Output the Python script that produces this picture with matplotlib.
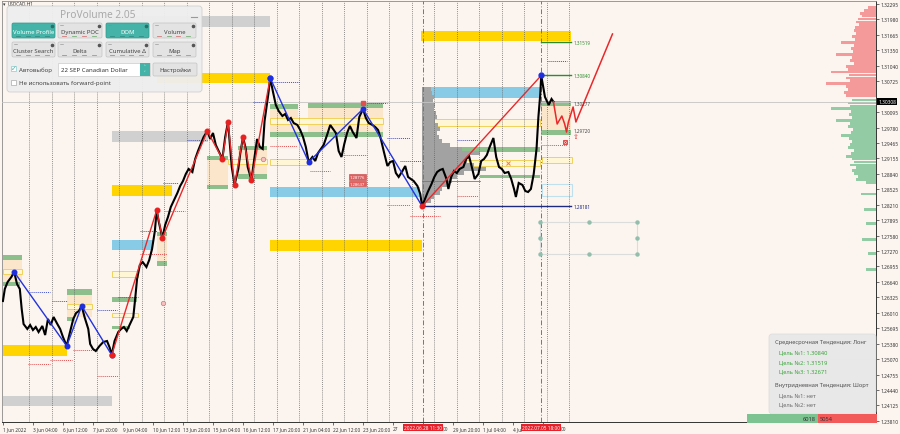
import matplotlib
matplotlib.use('Agg')
import matplotlib.pyplot as plt
from matplotlib.patches import Rectangle, FancyBboxPatch

plt.rcParams['font.family'] = ['Noto Sans', 'DejaVu Sans']

# ------------------------------------------------------------------ data
# H1 closes (bar index from chart start, price)
close_bar = [0, 2, 5, 9, 12, 15, 18, 20, 22, 26, 29, 32, 35, 38, 42, 45, 48, 51, 54, 58,
             61, 64, 68, 71, 75, 78, 81, 84, 87, 91, 93, 96, 99, 103, 107, 111, 114, 116, 119, 123,
             126, 129, 132, 135, 139, 141, 143, 146, 149, 153, 156, 159, 162, 164, 166, 170, 173, 176, 179, 182,
             186, 189, 192, 195, 198, 202, 205, 208, 211, 214, 218, 221, 224, 227, 230, 234, 237, 240, 242, 244,
             247, 251, 253, 256, 259, 261, 265, 268, 271, 274, 277, 279, 283, 285, 288, 291, 294, 298, 301, 304,
             307, 310, 314, 317, 320, 323, 326, 330, 333, 336, 339, 342, 346, 349, 352, 355, 358, 361, 364, 367,
             370, 373, 377, 380, 384, 387, 390, 394, 397, 400, 403, 406, 410, 413, 416, 419, 422, 426, 429, 432,
             435, 438, 442, 445, 447, 450, 453, 457, 460, 463, 466, 469, 473, 475, 478, 481, 484, 487, 491, 494,
             497, 500, 503, 507, 510, 513, 516, 519, 523, 526, 529, 532, 535, 539, 542, 545, 547, 550, 554, 557,
             560, 563, 566, 569, 571, 573, 574, 576, 578, 580, 582, 585, 587]
close_price = [1.26251, 1.26496, 1.26638, 1.26740, 1.26841, 1.26597, 1.26496, 1.26089, 1.25783, 1.25682,
               1.25763, 1.25661, 1.25722, 1.25620, 1.25743, 1.25559, 1.25885, 1.25763, 1.25926, 1.25783,
               1.25682, 1.25519, 1.25336, 1.25580, 1.25885, 1.26007, 1.26048, 1.26150, 1.25926, 1.25682,
               1.25376, 1.25275, 1.25234, 1.25336, 1.25417, 1.25437, 1.25295, 1.25152, 1.25437, 1.25620,
               1.25682, 1.25722, 1.25641, 1.25763, 1.25926, 1.26292, 1.26699, 1.26984, 1.27045, 1.26943,
               1.27086, 1.27310, 1.27676, 1.28103, 1.27879, 1.27533, 1.27798, 1.27961, 1.28164, 1.28286,
               1.28449, 1.28592, 1.28693, 1.28836, 1.28938, 1.28876, 1.29141, 1.29304, 1.29446, 1.29589,
               1.29711, 1.29548, 1.29670, 1.29426, 1.29304, 1.29141, 1.29589, 1.29894, 1.29446, 1.28978,
               1.28612, 1.28938, 1.29243, 1.29589, 1.29345, 1.28978, 1.28714, 1.29141, 1.29548, 1.29385,
               1.29345, 1.29914, 1.30464, 1.30789, 1.30504, 1.30240, 1.30118, 1.30016, 1.30057, 1.29935,
               1.29975, 1.29874, 1.29833, 1.29731, 1.29589, 1.29385, 1.29080, 1.29182, 1.29100, 1.29263,
               1.29345, 1.29426, 1.29650, 1.29833, 1.29752, 1.29670, 1.29304, 1.29182, 1.29446, 1.29670,
               1.29813, 1.29690, 1.29568, 1.29996, 1.30159, 1.29975, 1.29874, 1.29833, 1.29792, 1.29731,
               1.29548, 1.29304, 1.28999, 1.29080, 1.29100, 1.28856, 1.28775, 1.28897, 1.28999, 1.28775,
               1.28734, 1.28693, 1.28592, 1.28429, 1.28181, 1.28327, 1.28469, 1.28632, 1.28775, 1.28876,
               1.28917, 1.28938, 1.28734, 1.28531, 1.28775, 1.28897, 1.28856, 1.28938, 1.28978, 1.29141,
               1.29202, 1.28978, 1.28734, 1.28836, 1.29100, 1.29141, 1.29222, 1.29385, 1.29568, 1.29182,
               1.28978, 1.28938, 1.28856, 1.28876, 1.28734, 1.28531, 1.28368, 1.28653, 1.28612, 1.28490,
               1.28469, 1.28531, 1.28836, 1.29345, 1.29996, 1.30464, 1.30840, 1.30627, 1.30403, 1.30321,
               1.30240, 1.30362, 1.30308]

# zigzag swings
zz_blue_a_bar = [12, 68, 84, 116]
zz_blue_a_price = [1.26841, 1.25336, 1.26150, 1.25152]
zz_red_a_bar = [116, 164, 170, 218, 234, 240, 247, 256, 265, 285]
zz_red_a_price = [1.25152, 1.28103, 1.27533, 1.29711, 1.29141, 1.29894, 1.28612, 1.29589, 1.28714, 1.30789]
zz_blue_b_bar = [285, 326, 384, 447]
zz_blue_b_price = [1.30789, 1.29080, 1.30159, 1.28181]
zz_red_b_bar = [447, 574]
zz_red_b_price = [1.28181, 1.30840]
forecast_bar = [587, 591, 596, 599, 601, 603, 608, 611, 650]
forecast_price = [1.30308, 1.29853, 1.30016, 1.29853, 1.29690, 1.29894, 1.30199, 1.29894, 1.31685]

# target levels
target_price = [1.31519, 1.30840, 1.30277, 1.29720, 1.28181]
target_start = [574, 574, 574, 574, 447]
target_kind = ['line', 'line', 'bar', 'bar', 'navy']

# zones: (bar_from, bar_to, price_low, price_high)
gray_zones = [(116, 285, 1.31827, 1.32051), (116, 219, 1.29487, 1.29711), (0, 116, 1.24115, 1.24318)]
yellow_zones = [(116, 180, 1.28388, 1.28612), (164, 285, 1.30688, 1.30891), (0, 68, 1.25132, 1.25356),
                (285, 447, 1.27269, 1.27493), (446, 606, 1.31542, 1.31746)]
blue_zones = [(116, 160, 1.27289, 1.27493), (285, 445, 1.28368, 1.28571), (447, 573, 1.30382, 1.30606)]
cyan_boxes = [(575, 607, 1.28388, 1.28632)]
green_zones = [(0, 20, 1.27086, 1.27187), (0, 18, 1.26557, 1.26638), (68, 95, 1.26373, 1.26496),
               (68, 75, 1.25844, 1.25926), (116, 143, 1.26231, 1.26333), (116, 135, 1.25682, 1.25743),
               (164, 175, 1.27574, 1.27655), (164, 175, 1.26964, 1.27066), (218, 240, 1.29121, 1.29202),
               (218, 240, 1.28531, 1.28612), (251, 282, 1.29324, 1.29406), (251, 282, 1.28734, 1.28836),
               (285, 315, 1.30159, 1.30260), (325, 405, 1.30179, 1.30281), (285, 405, 1.29589, 1.29690),
               (449, 573, 1.29283, 1.29385), (509, 573, 1.28754, 1.28815), (574, 606, 1.30219, 1.30321),
               (574, 606, 1.29629, 1.29731)]
peach_zones = [(0, 20, 1.26638, 1.27086), (68, 95, 1.25926, 1.26373), (164, 175, 1.27066, 1.27574),
               (218, 240, 1.28612, 1.29121), (251, 282, 1.28836, 1.29324), (285, 315, 1.29690, 1.30159),
               (325, 405, 1.29690, 1.30179), (574, 606, 1.29731, 1.30219)]
yellow_boxes = [(0, 20, 1.26800, 1.26903), (68, 95, 1.26089, 1.26190), (116, 144, 1.26740, 1.26862),
                (116, 144, 1.25926, 1.26007), (240, 282, 1.29039, 1.29141), (285, 405, 1.29853, 1.29975),
                (285, 324, 1.29019, 1.29141), (447, 573, 1.29813, 1.29955), (482, 573, 1.28999, 1.29121),
                (575, 607, 1.29060, 1.29182)]
blue_dotted = [(29, 50, 1.26435), (52, 68, 1.26251), (100, 122, 1.26068), (123, 144, 1.26333),
               (146, 164, 1.27676), (171, 187, 1.28653), (196, 218, 1.29528), (267, 285, 1.30301),
               (288, 317, 1.30708), (388, 410, 1.30281), (410, 434, 1.29568), (423, 446, 1.29100),
               (484, 507, 1.29528), (580, 602, 1.31135)]
red_dotted = [(27, 50, 1.24969), (50, 74, 1.25051), (75, 100, 1.25254), (100, 123, 1.24726),
              (146, 175, 1.27208), (173, 194, 1.28083), (285, 314, 1.29406), (327, 349, 1.28897),
              (363, 388, 1.29222), (410, 434, 1.28205), (434, 466, 1.27981), (484, 507, 1.28388),
              (575, 602, 1.29426)]

# volume profile from the 28 Jun low
vp_start = 447
vp_price = [1.30566, 1.30484, 1.30403, 1.30321, 1.30240, 1.30159, 1.30077, 1.29996, 1.29914, 1.29833,
            1.29752, 1.29670, 1.29589, 1.29508, 1.29426, 1.29345, 1.29263, 1.29182, 1.29100, 1.29019,
            1.28938, 1.28856, 1.28775, 1.28693, 1.28612, 1.28531, 1.28449, 1.28368, 1.28286, 1.28205]
vp_volume = [9, 11, 13, 12, 14, 13, 15, 16, 14, 17, 19, 16, 18, 21, 30, 43, 62, 51, 48, 55,
             68, 45, 37, 32, 27, 21, 19, 13, 9, 4]
vp_poc = 1.28693

# DOM (asks above, bids below current price)
ask_price = [1.3223, 1.3217, 1.3211, 1.3205, 1.3199, 1.3193, 1.3187, 1.3181, 1.3175, 1.3169,
             1.3163, 1.3157, 1.3151, 1.3145, 1.3139, 1.3133, 1.3127, 1.3121, 1.3115, 1.3109,
             1.3103, 1.3097, 1.3091, 1.3085, 1.3079, 1.3073, 1.3067, 1.3061, 1.3055, 1.3049, 1.3043]
ask_volume = [8, 12, 16, 14, 18, 20, 17, 21, 22, 20, 24, 21, 35, 22, 25, 23, 40, 24, 26, 22,
              30, 28, 45, 27, 30, 26, 50, 30, 28, 32, 30]
bid_price = [1.3034, 1.3028, 1.3022, 1.3016, 1.3010, 1.3004, 1.2998, 1.2992, 1.2986, 1.2980,
             1.2974, 1.2968, 1.2962, 1.2956, 1.2950, 1.2944, 1.2938, 1.2932, 1.2926, 1.2920,
             1.2914, 1.2908, 1.2902, 1.2896, 1.2890, 1.2884, 1.2878, 1.2872, 1.2866,
             1.2843, 1.2812, 1.2782, 1.2751, 1.2721, 1.2690]
bid_volume = [24, 28, 26, 45, 25, 27, 24, 40, 26, 28, 23, 25, 35, 27, 24, 26, 28, 22, 25, 30,
              24, 22, 26, 20, 24, 22, 18, 20, 10, 15, 12, 10, 14, 8, 10]
dom_ask_total, dom_bid_total = 5054, 6018

# projection grid points
proj_bar = [573, 625, 676]
proj_price = [1.27859, 1.27533, 1.27208]

current_price = 1.30308
event_bar = [447.5, 574]
event_label = ['2022.06.28 11:30', '2022.07.05 18:00']
day_sep_bar = [28, 52, 76, 100, 124, 148, 172, 196, 220, 244, 268, 292, 316, 340, 364, 388,
               412, 436, 460, 484, 508, 532, 556, 580, 604]
# time labels (those partly hidden by the red event labels show only their visible part)
xtick_bar = [0, 32, 64, 96, 128, 160, 192, 224, 256, 288, 320, 352, 384, 416, 448, 480, 512, 544, 576]
xtick_label = ['1 Jun 2022', '3 Jun 04:00', '6 Jun 12:00', '7 Jun 20:00', '9 Jun 04:00', '10 Jun 12:00',
               '13 Jun 20:00', '15 Jun 04:00', '16 Jun 12:00', '17 Jun 20:00', '21 Jun 04:00',
               '22 Jun 12:00', '23 Jun 20:00', '27', '', '29 Jun 20:00',
               '1 Jul 04:00', '4 Jul', '']
xtick_tail_bar = [469, 595]
xtick_tail = ['00', '00']
ytick_price = [1.32295, 1.31980, 1.31665, 1.31350, 1.31040, 1.30725, 1.30095, 1.29780, 1.29465,
               1.29155, 1.28840, 1.28525, 1.28210, 1.27895, 1.27580, 1.27270, 1.26955, 1.26640,
               1.26325, 1.26010, 1.25695, 1.25380, 1.25070, 1.24755, 1.24440, 1.24125, 1.23810]

info_lines = [('Среднесрочная Тенденция: Лонг', 'head'), ('Цель №1: 1.30840', 'good'),
              ('Цель №2: 1.31519', 'good'), ('Цель №3: 1.32671', 'good'),
              ('Внутридневная Тенденция: Шорт', 'head'), ('Цель №1: нет', 'none'), ('Цель №2: нет', 'none')]

# ------------------------------------------------------------------ figure
W, H = 900, 435
BG = '#fcf5ef'
fig = plt.figure(figsize=(W / 100, H / 100), dpi=100)
fig.patch.set_facecolor(BG)
ax = fig.add_axes([2 / W, 12 / H, 874 / W, 421 / H])
ax.set_facecolor(BG)
XMAX = 931
ax.set_xlim(-1, XMAX)
ax.set_ylim(1.23789, 1.32356)

def zone(z, fc, ec='none', lw=0.0, zo=2):
    b0, b1, lo, hi = z
    ax.add_patch(Rectangle((b0, lo), b1 - b0, hi - lo, fc=fc, ec=ec, lw=lw, zorder=zo))

for z in peach_zones:
    zone(z, '#fbe6cc', zo=1.6)
for z in gray_zones:
    zone(z, '#d0d0d0')
for z in yellow_zones:
    zone(z, '#ffd400')
for z in blue_zones:
    zone(z, '#88cbe6')
for z in green_zones:
    zone(z, '#8dbf8d')
for z in yellow_boxes:
    zone(z, '#fff6d6', ec='#f0d25a', lw=0.7, zo=2.1)
for z in cyan_boxes:
    zone(z, 'none', ec='#bfe0ec', lw=0.8, zo=2.1)

for b0, b1, p in blue_dotted:
    ax.plot([b0, b1], [p, p], color='#4050d0', lw=0.7, ls=(0, (1, 1)), zorder=3)
for b0, b1, p in red_dotted:
    ax.plot([b0, b1], [p, p], color='#e05050', lw=0.7, ls=(0, (1, 1)), zorder=3)

# volume profile
ax.barh(vp_price, vp_volume, left=vp_start, height=0.00072, color='#a2a2a2', lw=0, zorder=2.2)
ax.plot([vp_start, vp_start], [vp_price[-1] - 0.0004, vp_price[0] + 0.0004], color='#9a9a9a', lw=0.6, zorder=2.3)
ax.plot([vp_start, vp_start + 62], [vp_poc, vp_poc], color='#b06060', lw=0.6, zorder=2.4)

# DOM on the right edge
k = 1.067
ax.barh(ask_price, [-v * k for v in ask_volume], left=XMAX, height=0.00058, color='#f59a9a', lw=0, zorder=2)
ax.barh(bid_price, [-v * k for v in bid_volume], left=XMAX, height=0.00058, color='#93cba5', lw=0, zorder=2)

# separators
for b in day_sep_bar:
    ax.axvline(b, color='#5a5a5a', lw=0.5, ls=(0, (1.3, 1.7)), zorder=2.5)
for b in event_bar:
    ax.axvline(b, color='#e04848', lw=0.7, ls=(0, (5, 2, 1, 2)), zorder=2.6)
ax.axhline(current_price, color='#c4c4c4', lw=0.6, zorder=2.7)
ax.plot([882, XMAX], [1.25071, 1.25071], color='#c8c8c8', lw=0.6, zorder=2.7)

# targets
for p, b0, kind in zip(target_price, target_start, target_kind):
    if kind == 'line':
        ax.plot([b0, 606], [p, p], color='#2e8b2e', lw=1.0, zorder=3.5)
        col = '#2e8b2e'
    elif kind == 'navy':
        ax.plot([b0, 606], [p, p], color='#1c2a80', lw=1.0, zorder=3.5)
        col = '#1c2a80'
    else:
        col = '#444444'
    ax.text(608, p, f'{p:.5f}', fontsize=3.3, color=col, va='center', ha='left', zorder=8)

# projection grid
ax.add_patch(Rectangle((proj_bar[0], proj_price[2]), proj_bar[2] - proj_bar[0], proj_price[0] - proj_price[2],
                       fc='none', ec='#dcdcdc', lw=0.8, zorder=3))
for pb, pp in [(proj_bar[0], proj_price[0]), (proj_bar[1], proj_price[0]), (proj_bar[2], proj_price[0]),
               (proj_bar[0], proj_price[1]), (proj_bar[2], proj_price[1]),
               (proj_bar[0], proj_price[2]), (proj_bar[1], proj_price[2]), (proj_bar[2], proj_price[2])]:
    ax.plot(pb, pp, 'o', ms=3.2, color='#90bfae', mec='none', zorder=4)

# price
ax.plot(close_bar, close_price, color='black', lw=1.5, zorder=5, solid_joinstyle='miter')

# zigzags
for xs, ys, c in [(zz_blue_a_bar, zz_blue_a_price, '#2233dd'), (zz_red_a_bar, zz_red_a_price, '#e8282a'),
                  (zz_blue_b_bar, zz_blue_b_price, '#2233dd'), (zz_red_b_bar, zz_red_b_price, '#e8282a')]:
    ax.plot(xs, ys, color=c, lw=1.0, zorder=6)
ax.plot(forecast_bar, forecast_price, color='#e8282a', lw=1.1, zorder=6)
for xs, ys in [(zz_blue_a_bar, zz_blue_a_price), (zz_blue_b_bar[:-1], zz_blue_b_price[:-1])]:
    ax.plot(xs, ys, 'o', ms=3.3, color='#1f2fe0', zorder=7)
ax.plot(zz_red_b_bar[1], zz_red_b_price[1], 'o', ms=3.5, color='#1f2fe0', zorder=7)
ax.plot(zz_red_a_bar[1:-1], zz_red_a_price[1:-1], 'o', ms=3.3, color='#e82020', zorder=7)
ax.plot([zz_blue_a_bar[-1], zz_red_b_bar[0]], [zz_blue_a_price[-1], zz_red_b_price[0]], 'o', ms=3.3,
        color='#e82020', zorder=7)
ax.plot([zz_red_a_bar[-1]], [zz_red_a_price[-1]], 'o', ms=3.3, color='#1f2fe0', zorder=7)

# small signal marks
ax.text(611, 1.29589, '⇧', color='#e03030', fontsize=5, ha='center', va='center', zorder=8)
ax.plot(599, 1.29487, 's', ms=2.6, mfc='none', mec='#e03030', mew=0.6, zorder=8)
ax.plot(599, 1.29487, 'x', ms=1.8, color='#e03030', mew=0.6, zorder=8)
for pb, pp in [(277, 1.29141), (171, 1.26211)]:
    ax.plot(pb, pp, 'o', ms=3.2, mfc='#f6c0c0', mec='#e07070', mew=0.5, zorder=8)
ax.plot(384, 1.30281, 's', ms=2.4, color='#e05050', zorder=8)
ax.plot(539, 1.29060, 'x', ms=2.2, color='#f08040', mew=0.7, zorder=8)

# red price labels
for p, t in [(1.28776, '1.28776'), (1.28637, '1.28637')]:
    ax.text(378, p, t, fontsize=3.0, color='white', ha='center', va='center', zorder=9,
            bbox=dict(boxstyle='square,pad=0.15', fc='#e06060', ec='#c04040', lw=0.4))

# axes styling
for s in ['left', 'top']:
    ax.spines[s].set_color('#8a8a8a')
    ax.spines[s].set_linewidth(0.6)
for s in ['right', 'bottom']:
    ax.spines[s].set_color('#333333')
    ax.spines[s].set_linewidth(0.7)
ax.yaxis.tick_right()
ax.set_yticks(ytick_price, [f'{v:.5f}' for v in ytick_price])
ax.tick_params(axis='y', length=2, width=0.5, pad=1.5, labelsize=3.5, colors='#333333')
ax.set_xticks(xtick_bar, xtick_label)
for lab in ax.get_xticklabels():
    lab.set_ha('left')
ax.tick_params(axis='x', length=2, width=0.5, pad=1.2, labelsize=3.4, colors='#333333')
for b, t in zip(xtick_tail_bar, xtick_tail):
    ax.annotate(t, xy=(b, 0), xycoords=('data', 'axes fraction'), xytext=(0, -3.2), textcoords='offset points',
                ha='left', va='top', fontsize=3.4, color='#333333', annotation_clip=False)

for b, t in zip(event_bar, event_label):
    ax.annotate(t, xy=(b, 0), xycoords=('data', 'axes fraction'), xytext=(0, -2.2), textcoords='offset points',
                ha='center', va='top', fontsize=3.4, color='white', zorder=20, annotation_clip=False,
                bbox=dict(boxstyle='square,pad=0.2', fc='#e8202a', ec='none'))
ax.annotate(f'{current_price:.5f}', xy=(1, current_price), xycoords=('axes fraction', 'data'),
            xytext=(1.6, 0), textcoords='offset points', ha='left', va='center', fontsize=3.5,
            color='white', zorder=20, annotation_clip=False,
            bbox=dict(boxstyle='square,pad=0.2', fc='black', ec='none'))

# ------------------------------------------------------------------ overlay (UI panels, pixel space)
ov = fig.add_axes([0, 0, 1, 1], zorder=10)
ov.set_xlim(0, W)
ov.set_ylim(H, 0)
ov.axis('off')
ov.patch.set_alpha(0)

def rbox(x0, y0, x1, y1, fc, ec='none', lw=0.5, r=2.0, z=11, alpha=1.0):
    ov.add_patch(FancyBboxPatch((x0, y0), x1 - x0, y1 - y0, boxstyle=f'round,pad=0,rounding_size={r}',
                                fc=fc, ec=ec, lw=lw, zorder=z, alpha=alpha))

ov.text(3, 4.5, '▾', fontsize=3.5, color='#333', va='center', zorder=11)
ov.text(8, 4.5, 'USDCAD,H1', fontsize=3.3, color='#333', va='center', zorder=11)

TEAL = '#45b3a7'
rbox(7, 7, 202, 93, '#eeeeee', ec='#cfcfcf', lw=0.6, r=3, z=11, alpha=0.96)
ov.text(98, 15, 'ProVolume 2.05', fontsize=7.3, color='#a9a9a9', ha='center', va='center', zorder=12)
ov.plot([191, 197], [17.5, 17.5], color='#999', lw=0.8, zorder=12)

cols = [(12, 55), (58, 102), (106, 149), (153, 196)]
rows = [(24, 39), (43, 58)]
labels = [['Volume Profile', 'Dynamic POC', 'DOM', 'Volume'],
          ['Cluster Search', 'Delta', 'Cumulative Δ', 'Map']]
active = [[True, False, True, False], [False, False, False, False]]
for ri, (y0, y1) in enumerate(rows):
    for ci, (x0, x1) in enumerate(cols):
        on = active[ri][ci]
        rbox(x0, y0, x1, y1, TEAL if on else '#e3e3e3', ec='#2f9a8e' if on else '#c3c3c3', lw=0.5, r=1.5, z=12)
        ov.text((x0 + x1) / 2, y0 + 8.3, labels[ri][ci], fontsize=4.3, color='white' if on else '#444',
                ha='center', va='center', zorder=13)
        ov.plot(x1 - 3, y0 + 2.5, 'o', ms=1.6, color='#555' if not on else '#2a6f68', zorder=13)
        ov.plot([x0 + 2, x0 + 5], [y0 + 2.3, y0 + 2.3], color='#888', lw=0.4, zorder=13)
        for j in range(4):
            xx = x0 + 4 + j * (x1 - x0 - 8) / 3.6
            c = '#2f8f85' if on else ('#d07a7a' if j % 2 == 0 else '#79b079')
            ov.plot([xx, xx + 4], [y1 - 1.8, y1 - 1.8], color=c, lw=0.6, zorder=13)

# checkbox 1
ov.add_patch(Rectangle((11, 67), 5, 5, fc='white', ec='#8cc', lw=0.5, zorder=12))
ov.text(13.5, 69.3, '✓', fontsize=5, color=TEAL, ha='center', va='center', zorder=13)
ov.text(19, 70, 'Автовыбор', fontsize=4.4, color='#444', va='center', zorder=13)
# dropdown
ov.add_patch(Rectangle((58, 64), 92, 13, fc='white', ec='#cccccc', lw=0.5, zorder=12))
ov.add_patch(Rectangle((140, 64), 10, 13, fc=TEAL, ec='none', zorder=12.5))
ov.text(145, 68, '˄', fontsize=4, color='white', ha='center', va='center', zorder=13)
ov.text(145, 73.5, '˅', fontsize=4, color='white', ha='center', va='center', zorder=13)
ov.text(61, 70.5, '22 SEP Canadian Dollar', fontsize=4.4, color='#333', va='center', zorder=13)
rbox(153, 64, 197, 77, '#e3e3e3', ec='#c3c3c3', lw=0.5, r=1.5, z=12)
ov.text(175, 70.5, 'Настройки', fontsize=4.4, color='#444', ha='center', va='center', zorder=13)
# checkbox 2
ov.add_patch(Rectangle((11, 81), 5, 5, fc='white', ec='#aaaaaa', lw=0.5, zorder=12))
ov.text(19, 84, 'Не использовать forward-point', fontsize=4.4, color='#444', va='center', zorder=13)

# info panel
rbox(769, 335, 876, 415, '#e8e8e8', ec='#dadada', lw=0.5, r=3, z=11, alpha=0.97)
info_y = [343, 353, 363, 372, 386, 396, 405]
for (t, kind), yy in zip(info_lines, info_y):
    xx = 775 if kind == 'head' else 779
    col = {'head': '#505050', 'good': '#3aa53a', 'none': '#6a6a6a'}[kind]
    ov.text(xx, yy, t, fontsize=4.1, color=col, va='center', zorder=12)

# DOM totals bar
tot = dom_bid_total + dom_ask_total
x_start, x_end = 747, 877
x_mid = x_start + (x_end - x_start) * dom_bid_total / tot
ov.add_patch(Rectangle((x_start, 415), x_mid - x_start, 9, fc='#7dc391', ec='none', zorder=12))
ov.add_patch(Rectangle((x_mid, 415), x_end - x_mid, 9, fc='#f25a5a', ec='none', zorder=12))
ov.text(x_mid - 2, 419.6, str(dom_bid_total), fontsize=4.1, color='#333', ha='right', va='center', zorder=13)
ov.text(x_mid + 2, 419.6, str(dom_ask_total), fontsize=4.1, color='#333', ha='left', va='center', zorder=13)

fig.savefig('out.png', dpi=100, facecolor=BG)
